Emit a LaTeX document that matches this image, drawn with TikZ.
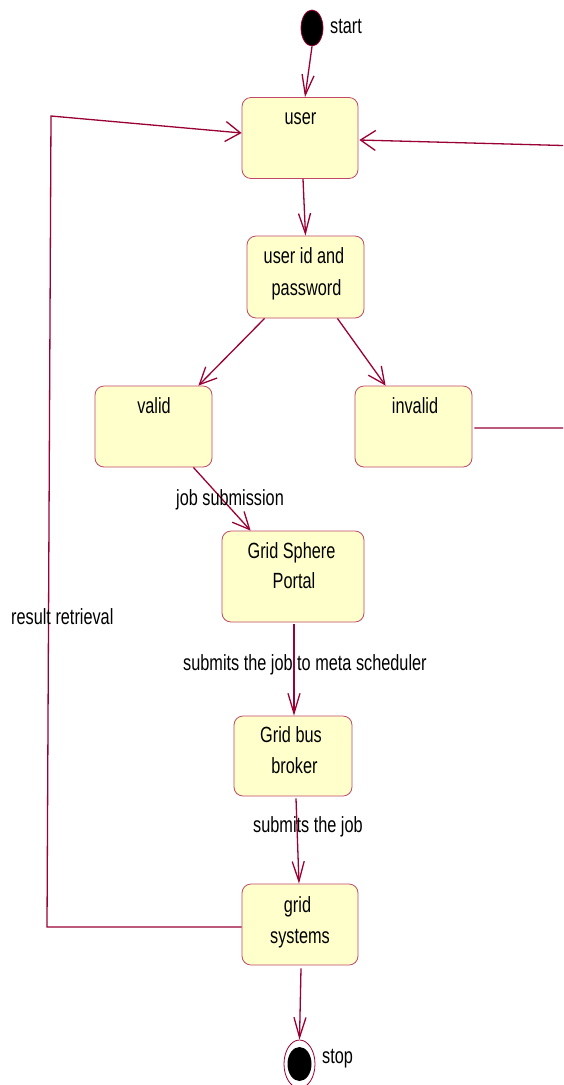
\documentclass[tikz,border=0pt]{standalone}
\usepackage{fontspec}
\setmainfont{Liberation Sans}[FakeStretch=0.74]
\usetikzlibrary{arrows.meta,shapes.geometric}

\definecolor{wire}{HTML}{990033}
\definecolor{boxfill}{HTML}{FFFFCC}
\definecolor{boxline}{HTML}{C04868}

\tikzset{
  state/.style={draw=boxline, fill=boxfill, rounded corners=9pt, line width=0.8pt,
                inner sep=0pt, minimum width=116pt, minimum height=81pt},
  txt/.style={font=\fontsize{22}{26}\selectfont, inner sep=0pt, anchor=base},
  txtw/.style={txt, anchor=base west},
  flow/.style={draw=wire, line width=1.3pt, line join=miter},
  vtip/.style={-{Straight Barb[length=20pt,width=12pt,line width=1.3pt]}},
  htip/.style={-{Straight Barb[length=15pt,width=20pt,line width=1.3pt]}},
  dtip/.style={-{Straight Barb[length=17pt,width=16pt,line width=1.3pt]}},
}

\begin{document}
\begin{tikzpicture}[x=1pt,y=-1pt]
\useasboundingbox (0,0) rectangle (563,1085);
\clip (0,0) rectangle (563,1085);

% initial and final pseudo-states
\node[ellipse, draw=wire, line width=0.8pt, fill=black, inner sep=0pt,
      minimum width=22pt, minimum height=36pt] (start) at (312,28) {};
\node[txtw] (startlbl) at (330,33) {start};

\node[ellipse, draw=wire, line width=0.8pt, fill=white, inner sep=0pt,
      minimum width=31pt, minimum height=48pt] (stop) at (299.5,1064) {};
\node[ellipse, fill=black, inner sep=0pt,
      minimum width=24pt, minimum height=34pt] (stopdot) at (299.5,1064) {};
\node[txtw] (stoplbl) at (322,1063) {stop};

% states
\node[state] (user) at (300,138) {};
\node[txt] (user-t) at (300.5,124) {user};

\node[state, minimum width=117pt, minimum height=82pt] (uid) at (305.5,277) {};
\node[txt] (uid-t1) at (304,263) {user id and};
\node[txt] (uid-t2) at (306.5,295) {password};

\node[state, minimum width=117pt] (valid) at (153.5,426.5) {};
\node[txt] (valid-t) at (154,413) {valid};

\node[state, minimum width=117pt] (invalid) at (413.5,426.5) {};
\node[txt] (invalid-t) at (415,413) {invalid};

\node[state, minimum width=142pt, minimum height=91pt] (portal) at (293,576.5) {};
\node[txt] (portal-t1) at (291.5,558) {Grid Sphere};
\node[txt] (portal-t2) at (294,588) {Portal};

\node[state, minimum width=118pt, minimum height=80pt] (broker) at (293,756) {};
\node[txt] (broker-t1) at (291,742) {Grid bus};
\node[txt] (broker-t2) at (294.5,773) {broker};

\node[state] (grid) at (300,924.5) {};
\node[txt] (grid-t1) at (297.5,912) {grid};
\node[txt] (grid-t2) at (300,943) {systems};

% route corners
\coordinate (rb) at (600,428);
\coordinate (rt) at (600,146.5);
\coordinate (lb) at (47,927);
\coordinate (lt) at (51,116);

% transitions
\draw[flow, vtip] (start.south) -- ([xshift=5pt]user.north);
\draw[flow, vtip] ([xshift=3pt]user.south) -- (uid.north);
\draw[flow, dtip] ([xshift=18pt]uid.south west) -- ([xshift=-14pt]valid.north east);
\draw[flow, dtip] ([xshift=-27pt]uid.south east) -- ([xshift=31pt]invalid.north west);
\draw[flow, htip] ([xshift=2pt,yshift=-1.5pt]invalid.east) -- (rb) -- (rt) -- ([xshift=1pt,yshift=-2pt]user.east);
\draw[flow, dtip] ([xshift=-19pt]valid.south east) -- ([xshift=29pt]portal.north west);
\draw[flow, vtip] ([xshift=1pt,yshift=-2pt]portal.south) -- ([xshift=1pt]broker.north);
\draw[flow, vtip] ([xshift=3pt,yshift=-2pt]broker.south) -- ([xshift=-1pt]grid.north);
\draw[flow, vtip] ([xshift=1pt,yshift=-3pt]grid.south) -- (stop.north);
\draw[flow, htip] ([yshift=-2.5pt]grid.west) -- (lb) -- (lt) -- ([yshift=5pt]user.west);

% transition labels
\node[txtw] (lbl-job) at (176,505) {job submission};
\node[txtw] (lbl-meta) at (183,670) {submits the job to meta scheduler};
\node[txtw] (lbl-sub) at (253,832) {submits the job};
\node[txtw] (lbl-res) at (11,624) {result retrieval};
\end{tikzpicture}
\end{document}
